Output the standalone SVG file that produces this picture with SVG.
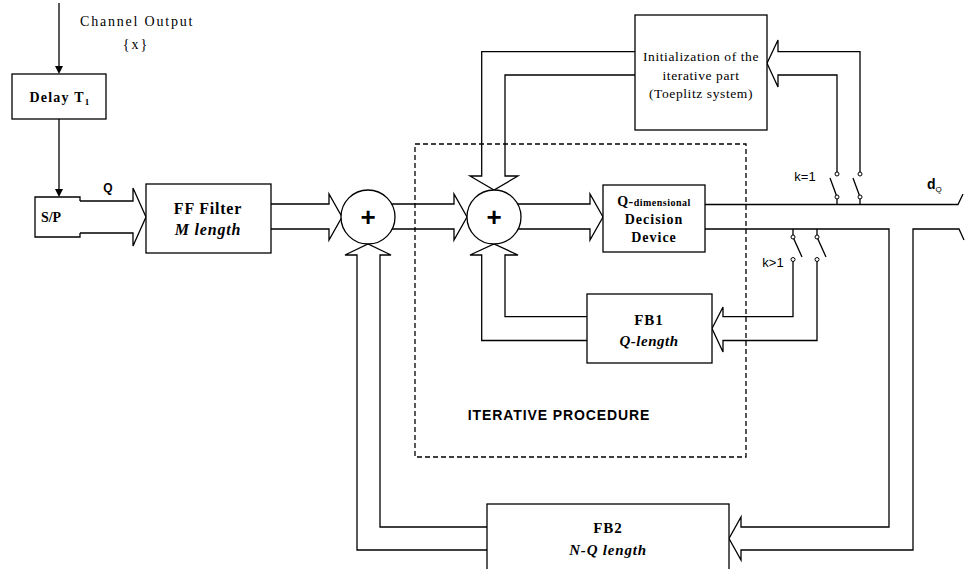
<svg xmlns="http://www.w3.org/2000/svg" width="965" height="569" viewBox="0 0 965 569">
<style>
.box{fill:#fff;stroke:#000;stroke-width:1.3}
.ln{fill:none;stroke:#000;stroke-width:1.3;stroke-linejoin:miter}
.dash{fill:none;stroke:#000;stroke-width:1.3;stroke-dasharray:5,3}
.dot{fill:#fff;stroke:#000;stroke-width:1}
.serif{font-family:"Liberation Serif","Times New Roman",serif;fill:#000}
.sans{font-family:"Liberation Sans",Arial,sans-serif;fill:#000}
.b{font-weight:bold}
.i{font-style:italic}
.c{text-anchor:middle}
</style>
<rect width="965" height="569" fill="#fff"/>

<g id="connectors">
  <path class="ln" d="M59 3 V67"/>
  <polygon points="55,66 63,66 59,74" fill="#000"/>
  <path class="ln" d="M59 119 V190"/>
  <polygon points="55,189 63,189 59,197" fill="#000"/>
  <path class="ln" d="M80 201 H133 V188 L146 217 L133 246 V233 H80"/>
  <path class="ln" d="M271 204 H329 V194 L342 217 L329 240 V229 H271"/>
  <path class="ln" d="M391.7 204 H454 V194 L467 217 L454 240 V229 H392.2"/>
  <path class="ln" d="M517.7 204 H590 V194 L603 217 L590 240 V229 H518.2"/>
  <path class="ln" d="M635 51.7 H481.7 V176 H470 L494 190 L518 176 H505 V75 H635"/>
  <path class="ln" d="M860 174 V51.7 H778 V40 L767 63.3 L778 87 V75 H837 V174"/>
  <path class="ln" d="M587 340.5 H481.7 V255 H470 L494 244 L518 255 H505 V316.7 H587"/>
  <path class="ln" d="M793 259.5 V316.7 H723 V307 L712 328.5 L723 352 V340.5 H817 V259.5"/>
  <path class="ln" d="M487 550 H357 V255 H345 L368 244 L391 255 H380 V527 H487"/>
  <path class="ln" d="M705 204.5 H958 L963 194"/>
  <path class="ln" d="M705 229 H889 V527 H741 V517 L729 538.5 L741 560 V550 H913 V229 H959 L964 240"/>
  <path class="ln" d="M830 178 L837 197 M837 197 V204.5 M853 178 L860 197 M860 197 V204.5"/>
  <circle class="dot" cx="837" cy="174" r="2"/>
  <circle class="dot" cx="860" cy="174" r="2"/>
  <circle class="dot" cx="837" cy="197" r="2"/>
  <circle class="dot" cx="860" cy="197" r="2"/>
  <path class="ln" d="M793 229 V237 L802 257 M817 229 V237 L826 257"/>
  <circle class="dot" cx="793" cy="237" r="2"/>
  <circle class="dot" cx="817" cy="237" r="2"/>
  <circle class="dot" cx="793" cy="259.5" r="2"/>
  <circle class="dot" cx="817" cy="259.5" r="2"/>
</g>

<g id="channel-label">
  <text class="serif" x="80" y="26" font-size="14" letter-spacing="1.8">Channel Output</text>
  <text class="serif c" x="136" y="49" font-size="14" letter-spacing="2">{x}</text>
</g>

<g id="delay">
  <rect class="box" x="12" y="74" width="94" height="45"/>
  <text class="serif b c" x="60" y="102" font-size="14" letter-spacing="1.2">Delay T<tspan font-size="9" dy="3">1</tspan></text>
</g>

<g id="sp">
  <path class="ln" d="M80 201 V197 H35 V237 H80 V233"/>
  <text class="serif b c" x="51" y="222" font-size="14">S/P</text>
  <text class="sans b c" x="108" y="192" font-size="12">Q</text>
</g>

<g id="ff-filter">
  <rect class="box" x="146" y="184" width="125" height="69"/>
  <text class="serif b c" x="208" y="214" font-size="16" letter-spacing="0.8">FF Filter</text>
  <text class="serif b i c" x="208" y="235" font-size="16" letter-spacing="0.8">M length</text>
</g>

<g id="adder1">
  <circle class="box" cx="368" cy="217" r="27"/>
  <text class="sans b c" x="368" y="226" font-size="26">+</text>
</g>

<g id="adder2">
  <circle class="box" cx="494" cy="217" r="27"/>
  <text class="sans b c" x="494" y="226" font-size="26">+</text>
</g>

<g id="decision">
  <rect class="box" x="603" y="185" width="102" height="67"/>
  <text class="serif b c" x="654" y="206" font-size="14" letter-spacing="0.5">Q-<tspan font-size="10">dimensional</tspan></text>
  <text class="serif b c" x="654" y="224" font-size="14" letter-spacing="1">Decision</text>
  <text class="serif b c" x="654" y="242" font-size="14" letter-spacing="1">Device</text>
</g>

<g id="init">
  <rect class="box" x="635" y="15" width="132" height="115"/>
  <text class="serif c" x="701" y="61" font-size="13.5" letter-spacing="0.6">Initialization of the</text>
  <text class="serif c" x="701" y="80" font-size="13.5" letter-spacing="0.6">iterative part</text>
  <text class="serif c" x="701" y="98" font-size="13.5" letter-spacing="0.6">(Toeplitz system)</text>
</g>

<g id="fb1">
  <rect class="box" x="587" y="294" width="125" height="69"/>
  <text class="serif b c" x="649" y="325" font-size="15" letter-spacing="1">FB1</text>
  <text class="serif b i c" x="649" y="346" font-size="15" letter-spacing="0.5">Q-length</text>
</g>

<g id="fb2">
  <rect class="box" x="487" y="504" width="242" height="80"/>
  <text class="serif b c" x="608" y="533" font-size="15" letter-spacing="1">FB2</text>
  <text class="serif b i c" x="608" y="555" font-size="15" letter-spacing="0.8">N-Q length</text>
</g>

<g id="switch-labels">
  <text class="sans c" x="805" y="181" font-size="13">k=1</text>
  <text class="sans c" x="773" y="267" font-size="13">k&gt;1</text>
  <text class="sans b" x="927" y="189" font-size="14">d<tspan font-size="8" dy="3" font-weight="normal">Q</tspan></text>
</g>

<g id="iterative-procedure">
  <rect class="dash" x="415" y="144" width="331" height="313"/>
  <text class="sans b c" x="559" y="420" font-size="14" letter-spacing="0.9">ITERATIVE PROCEDURE</text>
</g>
</svg>
